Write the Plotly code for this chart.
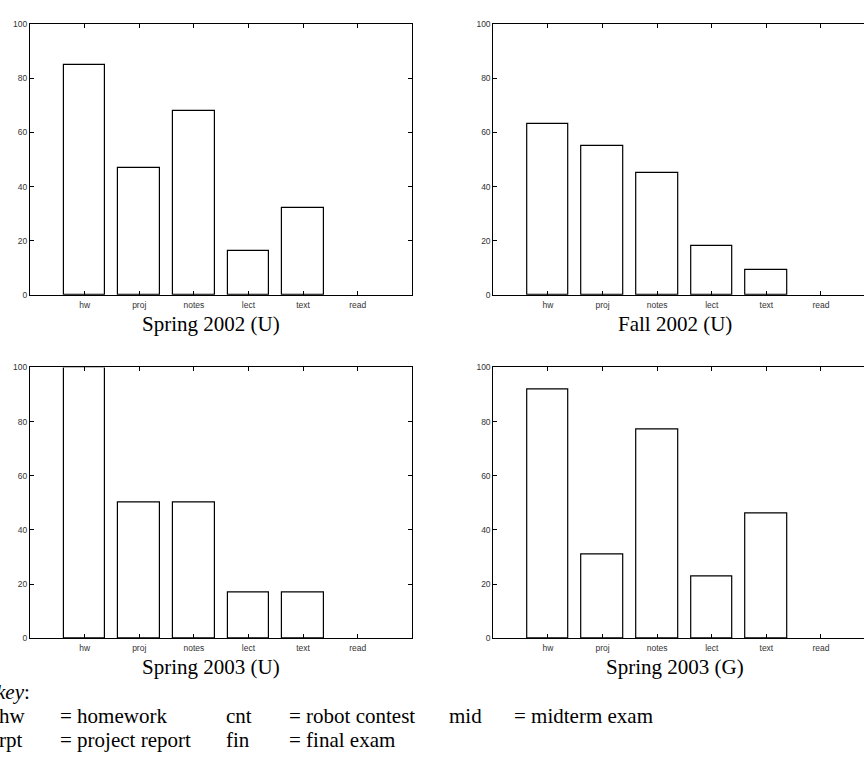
import plotly.graph_objects as go

W, H = 864, 760

categories = ["hw", "proj", "notes", "lect", "text", "read"]
cat_pos = [1, 2, 3, 4, 5, 6]

spring2002_u = [85, 47, 68, 16, 32, 0]
fall2002_u = [63, 55, 45, 18, 9, 0]
spring2003_u = [100, 50, 50, 17, 17, 0]
spring2003_g = [92, 31, 77, 23, 46, 0]

panel_titles = ["Spring 2002 (U)", "Fall 2002 (U)", "Spring 2003 (U)", "Spring 2003 (G)"]
panel_values = [spring2002_u, fall2002_u, spring2003_u, spring2003_g]

y_ticks = [0, 20, 40, 60, 80, 100]

key_abbrev = ["hw", "cnt", "mid", "rpt", "fin"]
key_meaning = ["= homework", "= robot contest", "= midterm exam", "= project report", "= final exam"]

# panel geometry in pixels
unit = (412.3 - 30.0) / 7.0
panels = [
    dict(x0=30.0, right_full=True, top=19.3, bot=293.7, title_x=210.5, title_y=323),
    dict(x0=493.3, right_full=False, top=19.3, bot=293.7, title_x=674.5, title_y=323),
    dict(x0=30.0, right_full=True, top=367.3, bot=641.7, title_x=210.5, title_y=671),
    dict(x0=493.3, right_full=False, top=367.3, bot=641.7, title_x=674.5, title_y=671),
]

fig = go.Figure()
sans = "Liberation Sans, Arial, Helvetica, sans-serif"
serif = "Liberation Serif, Times New Roman, Times, serif"

annotations = []
for i, (p, vals, title) in enumerate(zip(panels, panel_values, panel_titles)):
    n = i + 1
    xa = "x" if n == 1 else f"x{n}"
    ya = "y" if n == 1 else f"y{n}"
    fig.add_trace(go.Bar(
        x=cat_pos, y=vals, width=0.76,
        marker=dict(color="white",
                    line=dict(color="black", width=[1.2 if v > 0 else 0 for v in vals])),
        xaxis=xa, yaxis=ya, showlegend=False, hoverinfo="skip",
    ))
    if p["right_full"]:
        x1 = p["x0"] + 7 * unit
        xmax = 7
    else:
        x1 = W
        xmax = (W - p["x0"]) / unit
    xkey = "xaxis" if n == 1 else f"xaxis{n}"
    ykey = "yaxis" if n == 1 else f"yaxis{n}"
    fig.update_layout(**{
        xkey: dict(
            domain=[p["x0"] / W, x1 / W], range=[0, xmax], anchor=ya,
            tickvals=cat_pos, ticktext=categories,
            showline=True, linecolor="black", linewidth=1, mirror="ticks",
            ticks="inside", ticklen=4, tickcolor="black", tickwidth=1,
            showgrid=False, zeroline=False,
            tickfont=dict(family=sans, size=8.5, color="#333"),
            ticklabelstandoff=2,
        ),
        ykey: dict(
            domain=[1 - p["bot"] / H, 1 - p["top"] / H], range=[0, 100], anchor=xa,
            tickvals=y_ticks,
            showline=True, linecolor="black", linewidth=1,
            mirror="ticks" if p["right_full"] else False,
            ticks="inside", ticklen=4, tickcolor="black", tickwidth=1,
            showgrid=False, zeroline=False,
            tickfont=dict(family=sans, size=8.5, color="#333"),
        ),
    })
    annotations.append(dict(
        text=title, x=p["title_x"] / W, y=1 - p["title_y"] / H,
        xref="paper", yref="paper", xanchor="center", yanchor="middle",
        showarrow=False, font=dict(family=serif, size=21, color="black"),
    ))

# key block
def txt(s, x, y):
    annotations.append(dict(
        text=s, x=x / W, y=1 - y / H, xref="paper", yref="paper",
        xanchor="left", yanchor="middle", showarrow=False,
        font=dict(family=serif, size=21, color="black"),
    ))

txt("<i>key</i>:", -6, 696)
abbr_x = [-3, 224, 447, -3, 224]
mean_x = [58, 287, 512, 58, 287]
rows_y = [720, 720, 720, 745, 745]
for a, m, ax_, mx_, ry in zip(key_abbrev, key_meaning, abbr_x, mean_x, rows_y):
    txt(a, ax_, ry)
    txt(m, mx_, ry)

fig.update_layout(
    width=W, height=H, margin=dict(l=0, r=0, t=0, b=0),
    paper_bgcolor="white", plot_bgcolor="white",
    annotations=annotations, bargap=0,
)

fig.write_html("out.html")
